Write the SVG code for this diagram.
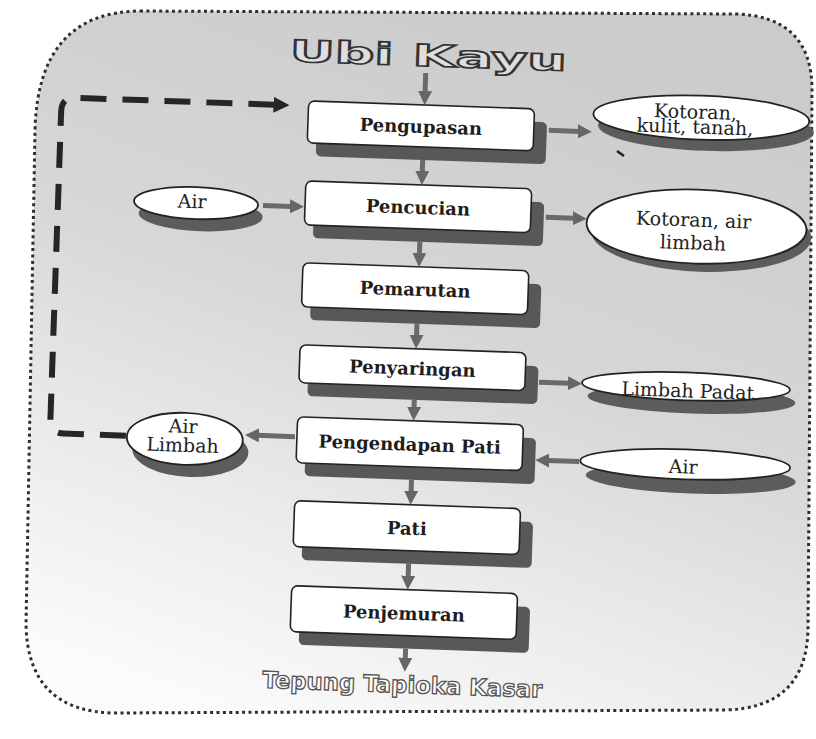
<svg xmlns="http://www.w3.org/2000/svg" width="816" height="739" viewBox="0 0 816 739">
  <defs>
    <linearGradient id="panelFill" x1="0.65" y1="0" x2="0.25" y2="1">
      <stop offset="0" stop-color="#cbcbcb"/>
      <stop offset="0.45" stop-color="#d7d7d7"/>
      <stop offset="0.75" stop-color="#ececec"/>
      <stop offset="1" stop-color="#fbfbfb"/>
    </linearGradient>
    <marker id="grayHead" markerUnits="userSpaceOnUse" markerWidth="14" markerHeight="14" viewBox="0 0 14 14" refX="2" refY="7" orient="auto">
      <path d="M0,0 L14,7 L0,14 Z" fill="#666"/>
    </marker>
    <marker id="darkHead" markerUnits="userSpaceOnUse" markerWidth="16" markerHeight="16" viewBox="0 0 16 16" refX="2" refY="8" orient="auto">
      <path d="M0,0 L16,8 L0,16 Z" fill="#262626"/>
    </marker>
  </defs>
  <style>
    .step .face { fill: #fff; stroke: #222; stroke-width: 1.6; }
    .step .shade { fill: #585858; }
    .step text { font-family: "DejaVu Serif", "Liberation Serif", serif; font-weight: bold; font-size: 18px; fill: #1e1e1e; text-anchor: middle; }
    .out .face { fill: #fff; stroke: #222; stroke-width: 1.8; }
    .out .shade { fill: #5c5c5c; }
    .out text { font-family: "DejaVu Serif", "Liberation Serif", serif; font-size: 19px; fill: #222; text-anchor: middle; }
    .flow { stroke: #6a6a6a; stroke-width: 5; fill: none; marker-end: url(#grayHead); }
    .loop { stroke: #262626; stroke-width: 6; fill: none; stroke-dasharray: 26 16; marker-end: url(#darkHead); }
    .banner { font-family: "DejaVu Sans", "Liberation Sans", sans-serif; font-weight: bold; text-anchor: middle; }
  </style>

  <!-- dotted panel -->
  <path id="panel" d="M140,11 L735,14 Q812,16 812,90 L808,630 Q806,708 725,710 L115,713 Q28,712 26,625 L35,130 Q38,12 140,11 Z"
        fill="url(#panelFill)" stroke="#2e2e2e" stroke-width="3" stroke-dasharray="3 3.4"/>

  <g transform="rotate(2 420 380)">
    <text class="banner" x="417" y="66" font-size="30" textLength="277" lengthAdjust="spacingAndGlyphs"
          fill="#dedede" stroke="#333" stroke-width="1.6">Ubi Kayu</text>

    <!-- process steps -->
    <g id="pengupasan" class="step">
      <rect class="shade" x="308" y="118" width="230" height="42" rx="5"/>
      <rect class="face" x="299" y="105" width="226" height="42" rx="6"/>
      <text x="412" y="133">Pengupasan</text>
    </g>
    <g id="pencucian" class="step">
      <rect class="shade" x="308" y="198" width="230" height="44" rx="5"/>
      <rect class="face" x="299" y="185" width="226" height="44" rx="6"/>
      <text x="412" y="214">Pencucian</text>
    </g>
    <g id="pemarutan" class="step">
      <rect class="shade" x="308" y="280" width="230" height="44" rx="5"/>
      <rect class="face" x="299" y="267" width="226" height="44" rx="6"/>
      <text x="412" y="296">Pemarutan</text>
    </g>
    <g id="penyaringan" class="step">
      <rect class="shade" x="308" y="362" width="230" height="38" rx="5"/>
      <rect class="face" x="299" y="349" width="226" height="38" rx="6"/>
      <text x="412" y="375">Penyaringan</text>
    </g>
    <g id="pengendapan" class="step">
      <rect class="shade" x="308" y="434" width="230" height="46" rx="5"/>
      <rect class="face" x="299" y="421" width="226" height="46" rx="6"/>
      <text x="412" y="451">Pengendapan Pati</text>
    </g>
    <g id="pati" class="step">
      <rect class="shade" x="308" y="518" width="230" height="46" rx="5"/>
      <rect class="face" x="299" y="505" width="226" height="46" rx="6"/>
      <text x="412" y="535">Pati</text>
    </g>
    <g id="penjemuran" class="step">
      <rect class="shade" x="308" y="603" width="230" height="46" rx="5"/>
      <rect class="face" x="299" y="590" width="226" height="46" rx="6"/>
      <text x="412" y="620">Penjemuran</text>
    </g>

    <!-- inputs and outputs -->
    <g id="kotoran-kulit" class="out">
      <ellipse class="shade" cx="697" cy="119" rx="108" ry="22"/>
      <ellipse class="face" cx="692" cy="108" rx="108" ry="22"/>
      <text x="686" y="109">Kotoran,</text>
      <text x="686" y="124">kulit, tanah,</text>
    </g>
    <g id="kotoran-air" class="out">
      <ellipse class="shade" cx="696" cy="225" rx="110" ry="37"/>
      <ellipse class="face" cx="691" cy="217" rx="110" ry="37"/>
      <text x="688" y="217">Kotoran, air</text>
      <text x="688" y="240">limbah</text>
    </g>
    <g id="air-masuk" class="out">
      <ellipse class="shade" cx="195" cy="223" rx="62" ry="16"/>
      <ellipse class="face" cx="190" cy="211" rx="62" ry="16"/>
      <text x="186" y="216" font-size="18">Air</text>
    </g>
    <g id="limbah-padat" class="out">
      <ellipse class="shade" cx="692" cy="390" rx="104" ry="14"/>
      <ellipse class="face" cx="686" cy="377" rx="104" ry="14"/>
      <text x="688" y="388">Limbah Padat</text>
    </g>
    <g id="air-pengendapan" class="out">
      <ellipse class="shade" cx="694" cy="469" rx="105" ry="15"/>
      <ellipse class="face" cx="688" cy="455" rx="105" ry="15"/>
      <text x="686" y="464">Air</text>
    </g>
    <g id="air-limbah" class="out">
      <ellipse class="shade" cx="193" cy="459" rx="58" ry="26"/>
      <ellipse class="face" cx="187" cy="447" rx="58" ry="26"/>
      <text x="185" y="441" font-size="18">Air</text>
      <text x="185" y="460" font-size="18">Limbah</text>
    </g>

    <!-- connectors -->
    <g id="connectors">
      <line class="flow" x1="415" y1="73" x2="415" y2="93" stroke="#4a4a4a"/>
      <line class="flow" x1="415" y1="160" x2="415" y2="173"/>
      <line class="flow" x1="415" y1="242" x2="415" y2="255"/>
      <line class="flow" x1="415" y1="324" x2="415" y2="337"/>
      <line class="flow" x1="415" y1="400" x2="415" y2="409"/>
      <line class="flow" x1="415" y1="480" x2="415" y2="493"/>
      <line class="flow" x1="415" y1="564" x2="415" y2="578"/>
      <line class="flow" x1="415" y1="649" x2="415" y2="660"/>

      <line class="flow" x1="540" y1="126" x2="571" y2="126"/>
      <line class="flow" x1="257" y1="211" x2="286" y2="211"/>
      <line class="flow" x1="540" y1="213" x2="569" y2="213"/>
      <line class="flow" x1="539" y1="378" x2="570" y2="378"/>
      <line class="flow" x1="582" y1="456" x2="550" y2="456"/>
      <line class="flow" x1="297" y1="441" x2="259" y2="441"/>

      <path class="loop" d="M128,446 L66,446 Q52,446 52,432 L52,124 Q52,110 66,110 L266,110"/>
    </g>

    <text class="banner" x="413" y="693" font-size="23" textLength="280" lengthAdjust="spacingAndGlyphs"
          fill="#fff" stroke="#555" stroke-width="1.3">Tepung Tapioka Kasar</text>
  </g>

  <path d="M617,151 L624,156" stroke="#222" stroke-width="2.5" fill="none"/>
</svg>
